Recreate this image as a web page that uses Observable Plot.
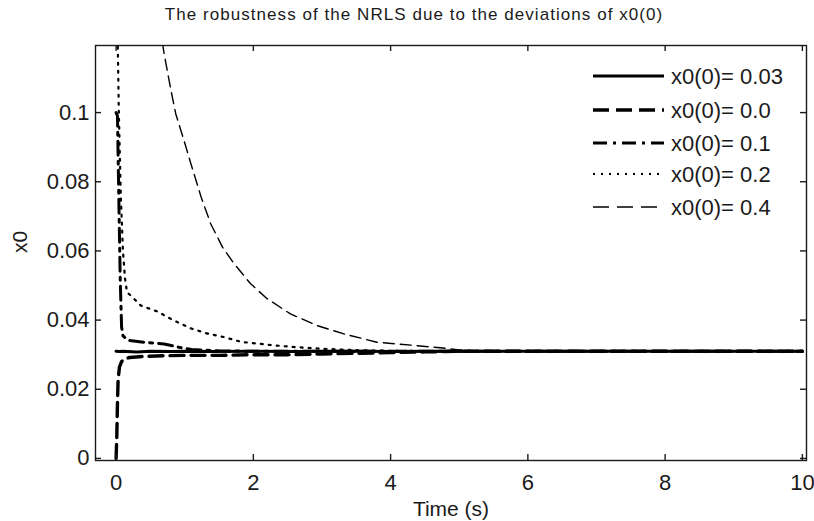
<!DOCTYPE html>
<html><head><meta charset="utf-8">
<script src="https://cdn.jsdelivr.net/npm/d3@7"></script>
<script src="https://cdn.jsdelivr.net/npm/@observablehq/plot@0.6"></script>
<style>
body{margin:0;background:#fff;}
#chart svg{font-family:"Liberation Sans",Arial,Helvetica,sans-serif;}
</style></head><body><div id="chart"></div>
<script>
const title = "The robustness of the NRLS due to the deviations of x0(0)";
const xLabel = "Time (s)";
const yLabel = "x0";
const seriesNames = ["x0(0)= 0.03", "x0(0)= 0.0", "x0(0)= 0.1", "x0(0)= 0.2", "x0(0)= 0.4"];
const xTicks = [0, 2, 4, 6, 8, 10];
const yTicks = [0, 0.02, 0.04, 0.06, 0.08, 0.1];

// x0(0)=0.03 (solid)
const tA = [0, 0.05, 0.1, 0.3, 0.5, 0.8, 1, 1.4, 2, 2.6, 3, 3.6, 4, 4.6, 5, 6, 8, 10];
const yA = [0.031, 0.0309, 0.031, 0.0308, 0.031, 0.0309, 0.031, 0.0309, 0.031, 0.0309, 0.031, 0.031, 0.0309, 0.031, 0.031, 0.031, 0.031, 0.031];
// x0(0)=0.0 (thick dashed)
const tB = [0, 0.01, 0.02, 0.03, 0.05, 0.08, 0.12, 0.2, 0.4, 0.7, 1, 1.5, 2, 2.5, 3, 3.5, 4, 4.5, 5, 6, 8, 10];
const yB = [0, 0.006, 0.016, 0.023, 0.0265, 0.028, 0.0287, 0.0292, 0.0295, 0.0297, 0.0298, 0.0298, 0.03, 0.03, 0.0302, 0.0304, 0.0306, 0.0308, 0.031, 0.031, 0.031, 0.031];
// x0(0)=0.1 (dash-dot)
const tC = [0, 0.02, 0.04, 0.06, 0.08, 0.1, 0.15, 0.2, 0.4, 0.7, 0.9, 1.1, 1.5, 2, 3, 4, 6, 8, 10];
const yC = [0.1, 0.099, 0.075, 0.052, 0.038, 0.0355, 0.0345, 0.0341, 0.0336, 0.0331, 0.0322, 0.0315, 0.0311, 0.031, 0.031, 0.031, 0.031, 0.031, 0.031];
// x0(0)=0.2 (dotted)
const tD = [0, 0.01, 0.02, 0.04, 0.07, 0.1, 0.13, 0.16, 0.22, 0.36, 0.6, 0.84, 1.09, 1.33, 1.57, 1.82, 2.06, 2.3, 2.6, 3, 3.5, 4, 5, 6, 8, 10];
const yD = [0.2, 0.16, 0.125, 0.1, 0.075, 0.06, 0.052, 0.048, 0.047, 0.0442, 0.0425, 0.0399, 0.0376, 0.0361, 0.0351, 0.0337, 0.0332, 0.0327, 0.0322, 0.0317, 0.0313, 0.0311, 0.031, 0.031, 0.031, 0.031];
// x0(0)=0.4 (thin dashed)
const tE = [0, 0.2, 0.4, 0.6, 0.7, 0.8, 0.87, 0.99, 1.09, 1.24, 1.38, 1.55, 1.72, 1.96, 2.2, 2.54, 2.93, 3.32, 3.8, 4.33, 4.72, 5.0, 5.3, 6, 8, 10];
const yE = [0.4, 0.25, 0.175, 0.13, 0.117, 0.1064, 0.0996, 0.0919, 0.0852, 0.0755, 0.0678, 0.0611, 0.0563, 0.0505, 0.0462, 0.0418, 0.0384, 0.036, 0.0336, 0.0327, 0.032, 0.0314, 0.031, 0.031, 0.031, 0.031];

const seriesT = [tA, tB, tC, tD, tE];
const seriesY = [yA, yB, yC, yD, yE];
const styles = [
  {strokeWidth: 3, dash: null, legendDash: null},
  {strokeWidth: 3.4, dash: "14,7", legendDash: "16,7"},
  {strokeWidth: 3, dash: "14,6,3,6", legendDash: "14,6,3,6"},
  {strokeWidth: 2.2, dash: "2,6", legendDash: "2,6"},
  {strokeWidth: 1.4, dash: "11,6", legendDash: "16,8"}
];

const W = 814, H = 521;
const mL = 95, mR = 8, mT = 45, mB = 61;
const fw = W - mL - mR, fh = H - mT - mB;
const ink = "#1a1a1a";

const lineMarks = seriesNames.map((name, i) => {
  const rows = seriesT[i].map((t, j) => ({t, y: seriesY[i][j], s: name}));
  return Plot.line(rows, {x: "t", y: "y", stroke: "black", strokeWidth: styles[i].strokeWidth,
    strokeDasharray: styles[i].dash, clip: true, strokeLinejoin: "round"});
});

const plot = Plot.plot({
  width: W, height: H,
  marginLeft: mL, marginRight: mR, marginTop: mT, marginBottom: mB,
  style: {fontSize: "22px", background: "white", color: ink},
  x: {domain: [-0.3, 10.06], axis: null},
  y: {domain: [-0.0006, 0.1194], axis: null},
  marks: [
    ...lineMarks,
    Plot.frame({stroke: ink, strokeWidth: 1.4}),
    Plot.tickX(xTicks, {x: d => d, insetTop: fh - 6, strokeWidth: 1.4, stroke: ink}),
    Plot.tickX(xTicks, {x: d => d, insetBottom: fh - 6, strokeWidth: 1.4, stroke: ink}),
    Plot.tickY(yTicks, {y: d => d, insetRight: fw - 6, strokeWidth: 1.4, stroke: ink}),
    Plot.tickY(yTicks, {y: d => d, insetLeft: fw - 6, strokeWidth: 1.4, stroke: ink}),
    Plot.text(xTicks, {x: d => d, frameAnchor: "bottom", lineAnchor: "middle", dy: 22, text: d => String(d), fill: ink, fontSize: 22}),
    Plot.text(yTicks, {y: d => d, frameAnchor: "left", lineAnchor: "middle", dx: -6, textAnchor: "end", text: d => String(d), fill: ink, fontSize: 22}),
    Plot.text([title], {frameAnchor: "top", lineAnchor: "middle", dy: -31, dx: -37, fontSize: 17, fill: ink}),
    Plot.text([xLabel], {frameAnchor: "bottom", lineAnchor: "middle", dy: 49, fontSize: 21, fill: ink}),
    Plot.text([yLabel], {frameAnchor: "left", lineAnchor: "middle", dx: -75, rotate: -90, fontSize: 21, fill: ink})
  ]
});

const svg = d3.select(plot);
svg.selectAll("text").filter(function() { return this.textContent === title; })
  .attr("letter-spacing", "1.05px");

// legend inside top-right
const lg = svg.append("g").attr("text-anchor", "start");
const rowY = [76, 110, 143, 174, 207];
seriesNames.forEach((name, i) => {
  lg.append("line").attr("x1", 593).attr("x2", 664).attr("y1", rowY[i]).attr("y2", rowY[i])
    .attr("stroke", "black").attr("stroke-width", styles[i].strokeWidth)
    .attr("stroke-dasharray", styles[i].legendDash);
  lg.append("text").attr("x", 671).attr("y", rowY[i]).attr("dy", "0.36em")
    .attr("font-size", 22).attr("fill", ink).text(name);
});

document.getElementById("chart").appendChild(plot);
</script></body></html>
